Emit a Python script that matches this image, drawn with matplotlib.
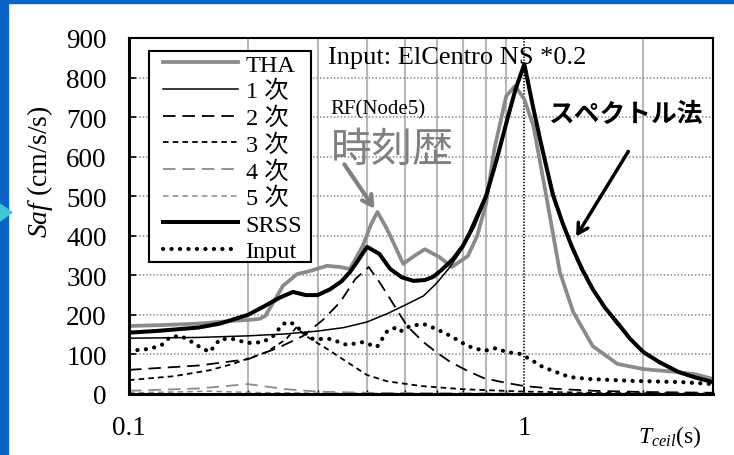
import matplotlib.pyplot as plt
from matplotlib.patches import Rectangle, Polygon

plt.rcParams['font.family'] = ['Liberation Serif', 'Noto Sans CJK JP']
plt.rcParams['mathtext.fontset'] = 'custom'
plt.rcParams['mathtext.rm'] = 'Liberation Serif'
plt.rcParams['mathtext.it'] = 'Liberation Serif:italic'
plt.rcParams['lines.scale_dashes'] = False

# values (period in s, Saf in cm/s/s)
t_tha = [0.1, 0.12, 0.15, 0.183, 0.2, 0.214, 0.221, 0.232, 0.245, 0.266, 0.287, 0.317,
         0.342, 0.362, 0.39, 0.41, 0.425, 0.445, 0.458, 0.494, 0.52, 0.56, 0.61, 0.656,
         0.72, 0.76, 0.8, 0.84, 0.9, 0.948, 1.0, 1.055, 1.14, 1.23, 1.33, 1.49, 1.72,
         2.0, 2.4, 2.7, 3.0]
saf_tha = [172, 174, 178, 185, 187, 190, 197, 232, 273, 303, 311, 324,
           321, 316, 374, 430, 460, 425, 400, 329, 345, 366, 346, 321,
           349, 400, 480, 619, 753, 779, 745, 677, 493, 308, 207, 121, 76,
           63, 56, 50, 38]

t_m1 = [0.1, 0.15, 0.2, 0.25, 0.3, 0.35, 0.4, 0.45, 0.5, 0.556, 0.6, 0.65, 0.7, 0.75,
        0.8, 0.85, 0.9, 0.95, 1.0, 1.05, 1.1, 1.2, 1.3, 1.5, 1.7, 2.0, 2.5, 3.0]
saf_m1 = [141, 143, 147, 152, 159, 168, 182, 203, 225, 248, 280, 322, 370, 425,
          495, 585, 685, 770, 830, 728, 633, 490, 385, 262, 180, 104, 54, 29]

t_m2 = [0.1, 0.15, 0.2, 0.24, 0.276, 0.31, 0.342, 0.374, 0.404, 0.43, 0.458, 0.505,
        0.556, 0.6, 0.65, 0.72, 0.79, 0.9, 1.0, 1.2, 1.5, 2.0, 3.0]
saf_m2 = [61, 72, 88, 118, 147, 188, 232, 291, 321, 283, 240, 172,
          131, 105, 81, 58, 40, 28, 20, 13, 8, 5, 3]

t_m3 = [0.1, 0.13, 0.16, 0.183, 0.223, 0.25, 0.265, 0.28, 0.317, 0.356, 0.4, 0.45,
        0.55, 0.7, 1.0, 1.5, 3.0]
saf_m3 = [35, 45, 60, 76, 106, 139, 168, 147, 114, 81, 48, 32, 20, 12, 6, 3, 1]

t_m4 = [0.1, 0.15, 0.2, 0.25, 0.3, 0.4, 0.6, 1.0, 3.0]
saf_m4 = [8, 14, 25, 12, 6, 3, 2, 1, 0.5]

t_m5 = [0.1, 0.13, 0.16, 0.2, 0.3, 0.5, 1.0, 3.0]
saf_m5 = [3, 5, 7, 4, 2, 1, 0.5, 0.2]

t_srss = [0.1, 0.12, 0.15, 0.17, 0.2, 0.22, 0.24, 0.26, 0.28, 0.3, 0.323, 0.345, 0.362,
          0.38, 0.4, 0.43, 0.458, 0.49, 0.524, 0.56, 0.588, 0.62, 0.66, 0.7, 0.73, 0.8,
          0.85, 0.906, 0.95, 1.0, 1.05, 1.1, 1.18, 1.25, 1.32, 1.4, 1.49, 1.6, 1.72,
          1.85, 2.0, 2.2, 2.45, 2.7, 3.0]
saf_srss = [155, 160, 168, 178, 200, 222, 243, 258, 250, 250, 265, 285, 308,
            338, 372, 354, 316, 295, 286, 288, 296, 315, 341, 375, 410, 500,
            590, 695, 770, 834, 730, 637, 505, 432, 372, 315, 265, 218, 180,
            140, 106, 80, 56, 42, 30]

t_in = [0.1, 0.113, 0.121, 0.127, 0.135, 0.143, 0.151, 0.16, 0.17, 0.183, 0.2, 0.218,
        0.232, 0.245, 0.256, 0.27, 0.292, 0.323, 0.356, 0.39, 0.424, 0.45, 0.476, 0.49,
        0.514, 0.556, 0.6, 0.65, 0.72, 0.79, 0.85, 0.9, 0.98, 1.05, 1.1, 1.17, 1.3,
        1.45, 1.89, 2.5, 3.0]
saf_in = [109, 114, 124, 144, 147, 134, 119, 106, 139, 139, 129, 131,
          147, 177, 182, 164, 139, 139, 124, 131, 119, 159, 169, 159,
          172, 177, 164, 147, 121, 109, 116, 106, 101, 84, 71, 60, 43,
          38, 33, 30, 25]

fig = plt.figure(figsize=(7.34, 4.56), dpi=100)

# blue slide frame on top and left
fig.patches.append(Rectangle((0, 1 - 4 / 456), 1, 4 / 456, transform=fig.transFigure,
                             color='#0a64c8'))
fig.patches.append(Rectangle((0, 0), 8 / 734, 1, transform=fig.transFigure, color='#0a64c8'))
fig.patches.append(Polygon([(0, 0.5504), (12 / 734, 0.5318), (0, 0.5132)],
                           transform=fig.transFigure, color='#3cc8d8'))

ax = fig.add_axes([0.1757, 0.1338, 0.7956, 0.7807])

gray = '#8a8a8a'
ax.plot(t_tha, saf_tha, color=gray, lw=2.7, label='THA')
ax.plot(t_m1, saf_m1, color='k', lw=1.1, label='1 次')
ax.plot(t_m2, saf_m2, color='k', lw=1.3, dashes=(9, 5), label='2 次')
ax.plot(t_m3, saf_m3, color='k', lw=1.3, dashes=(4, 3), label='3 次')
ax.plot(t_m4, saf_m4, color=gray, lw=1.3, dashes=(9, 5), label='4 次')
ax.plot(t_m5, saf_m5, color=gray, lw=1.1, dashes=(4, 3), label='5 次')
ax.plot(t_srss, saf_srss, color='k', lw=2.9, label='SRSS')
ax.plot(t_in, saf_in, color='k', lw=3.0, dashes=(0.1, 6.0), dash_capstyle='round',
        label='Input')

ax.set_xscale('log')
ax.set_xlim(0.1, 3)
ax.set_ylim(0, 900)
ax.set_yticks(range(0, 901, 100))
ax.set_xticks([0.1, 1])
ax.set_xticklabels(['0.1', '1'])
ax.set_xticks([0.2, 0.3, 0.4, 0.5, 0.6, 0.7, 0.8, 0.9, 2, 3], minor=True)
ax.set_xticklabels([], minor=True)

ax.set_axisbelow(True)
ax.xaxis.grid(True, which='minor', color='#b8b8b8', lw=1.5, ls='-')
ax.xaxis.grid(True, which='major', color='k', lw=1.2, ls=(0, (1, 1.2)))
ax.yaxis.grid(True, color='#8c8c8c', lw=1.2, ls=(0, (1, 1.5)))

ax.tick_params(axis='y', direction='in', length=5, width=1.2, labelsize=19.5, pad=16)
ax.tick_params(axis='x', which='major', direction='in', length=5, width=1.2, labelsize=19.5, pad=15)
ax.tick_params(axis='x', which='minor', direction='in', length=3, width=1)
for side in ['left', 'bottom']:
    ax.spines[side].set_linewidth(2.2)
for side in ['top', 'right']:
    ax.spines[side].set_linewidth(1.5)

# legend box drawn by hand (wider side padding than top/bottom)
ax.add_patch(Rectangle((0.0342, 0.3708), 0.2774, 0.5927, transform=ax.transAxes,
                       facecolor='white', edgecolor='k', lw=1.5, zorder=4.5))
leg = ax.legend(loc='upper left', bbox_to_anchor=(0.0582, 0.956), borderaxespad=0,
                fontsize=17.5, handlelength=3.1, handletextpad=0.3, labelspacing=0.18,
                borderpad=0, frameon=False)
leg.set_zorder(5)

fig.text(0.0545, 0.623, r'$Saf$ (cm/s/s)', rotation=90, fontsize=20, ha='center', va='center')
fig.text(0.913, 0.042, r'$T_{ceil}$(s)', fontsize=17, ha='center', va='center')

fig.text(0.447, 0.873, 'Input: ElCentro NS *0.2', fontsize=19, va='center')
fig.text(0.4496, 0.759, 'RF(Node5)', fontsize=15, va='center')
fig.text(0.451, 0.671, '時刻歴', fontsize=29.5, color='#808080', va='center',
         family='Noto Sans CJK JP')
fig.text(0.7466, 0.748, 'スペクトル法', fontsize=18.5, weight='bold', va='center',
         family='Noto Sans CJK JP')

ax.annotate('', xy=(0.5123, 0.535), xytext=(0.467, 0.6425), xycoords='figure fraction',
            textcoords='figure fraction',
            arrowprops=dict(arrowstyle='->,head_length=0.7,head_width=0.4', color='#808080', lw=3))
ax.annotate('', xy=(0.783, 0.474), xytext=(0.858, 0.671), xycoords='figure fraction',
            textcoords='figure fraction',
            arrowprops=dict(arrowstyle='->,head_length=0.7,head_width=0.4', color='k', lw=2.5))

fig.savefig('out.png', dpi=100)
